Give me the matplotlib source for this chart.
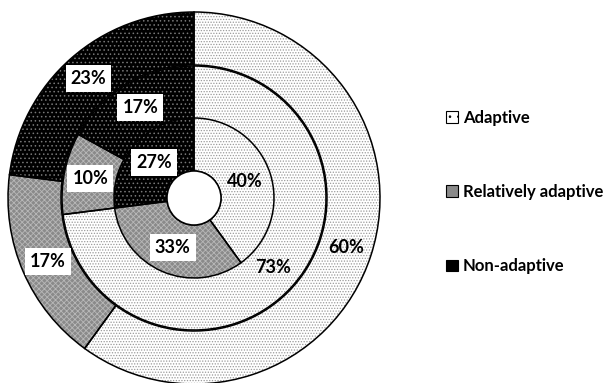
import matplotlib
matplotlib.use("Agg")
import matplotlib.pyplot as plt
from matplotlib.patches import Patch
import numpy as np

categories = ["Adaptive", "Relatively adaptive", "Non-adaptive"]
outer_vals = [60, 17, 23]
middle_vals = [73, 10, 17]
inner_vals = [40, 33, 27]

face = ["white", "#8a8a8a", "black"]
hatchcol = ["#9a9a9a", "#b8b8b8", "#777777"]
hatches = ["......", "xxxxxx", "...."]

plt.rcParams["hatch.linewidth"] = 0.6
plt.rcParams["font.family"] = ["Lato", "DejaVu Sans"]

W, H, DPI = 608, 383, 100
fig = plt.figure(figsize=(W / DPI, H / DPI), dpi=DPI)
cx, cy, R = 194, 383 - 198, 186
half = 192
ax = fig.add_axes([(cx - half) / W, (cy - half) / H, 2 * half / W, 2 * half / H])

rings = [(outer_vals, 1.0), (middle_vals, 132 / R), (inner_vals, 80 / R)]
width = 53 / R

for vals, rad in rings:
    wedges, _ = ax.pie(vals, radius=rad, startangle=90, counterclock=False,
                       colors=face, wedgeprops=dict(width=width, linewidth=0))
    for w, h, hc in zip(wedges, hatches, hatchcol):
        w.set_hatch(h)
        w.set_edgecolor(hc)
        w.set_linewidth(0)
    ax.pie(vals, radius=rad, startangle=90, counterclock=False,
           colors=["none"] * 3,
           wedgeprops=dict(width=width, linewidth=1.1, edgecolor="black", fill=False))
    total = sum(vals)
    start = 90.0
    rmid = rad - width / 2
    for i, v in enumerate(vals):
        ang = start - 360.0 * v / total / 2
        start -= 360.0 * v / total
        x = rmid * np.cos(np.radians(ang))
        y = rmid * np.sin(np.radians(ang))
        kw = dict(ha="center", va="center", fontsize=13, fontweight="bold", color="black")
        if i > 0:
            kw["bbox"] = dict(boxstyle="square,pad=0.28", facecolor="white", edgecolor="none")
        ax.text(x, y, f"{v}%", **kw)

hole = plt.Circle((0, 0), 27 / R, facecolor="white", edgecolor="black", linewidth=1.1)
ax.add_patch(hole)

ax.set_xlim(-half / R, half / R)
ax.set_ylim(-half / R, half / R)
ax.set_aspect("equal")
ax.axis("off")

handles = [Patch(facecolor=face[0], edgecolor="black", linewidth=0.8, hatch=".."),
           Patch(facecolor=face[1], edgecolor="black", linewidth=0.8),
           Patch(facecolor=face[2], edgecolor="black", linewidth=0.8)]
leg = fig.legend(handles, categories, loc="center left", bbox_to_anchor=(446 / W, 191 / H),
                 frameon=False, prop=dict(family=["Lato", "DejaVu Sans"], weight="bold", size=12),
                 handlelength=0.7, handleheight=0.7, handletextpad=0.3, labelspacing=3.5,
                 borderaxespad=0, borderpad=0)

fig.savefig("out.png", dpi=DPI)
